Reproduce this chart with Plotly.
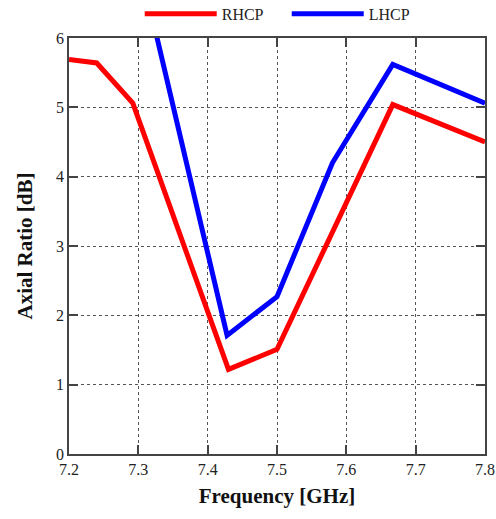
import plotly.graph_objects as go

freq_rhcp = [7.2, 7.24, 7.292, 7.43, 7.5, 7.667, 7.8]
ar_rhcp = [5.69, 5.64, 5.06, 1.22, 1.51, 5.04, 4.5]

freq_lhcp = [7.3, 7.428, 7.5, 7.58, 7.667, 7.8]
ar_lhcp = [7.15, 1.71, 2.27, 4.2, 5.62, 5.06]

x_ticks = [7.2, 7.3, 7.4, 7.5, 7.6, 7.7, 7.8]
y_ticks = [0, 1, 2, 3, 4, 5, 6]

font_family = "Liberation Serif"

fig = go.Figure()
fig.add_trace(go.Scatter(x=freq_rhcp, y=ar_rhcp, mode="lines", name="RHCP",
                         line=dict(color="#ff0000", width=5)))
fig.add_trace(go.Scatter(x=freq_lhcp, y=ar_lhcp, mode="lines", name="LHCP",
                         line=dict(color="#0000ff", width=5)))

axis_common = dict(
    showline=True, linecolor="#444444", linewidth=1.5, mirror="allticks",
    ticks="inside", ticklen=9, tickcolor="#444444", tickwidth=1.5,
    showgrid=True, gridcolor="#555555", griddash="dot", gridwidth=1.2,
    zeroline=False, automargin=False,
    tickfont=dict(family=font_family, size=16, color="#222222"),
)

fig.update_layout(
    width=496, height=519,
    margin=dict(l=69, r=11, t=38, b=65, autoexpand=False),
    plot_bgcolor="white", paper_bgcolor="white",
    font=dict(family=font_family, color="#111111"),
    showlegend=True,
    legend=dict(orientation="h", x=0.17, xanchor="left", y=1.058, yanchor="middle",
                font=dict(family=font_family, size=16, color="#222222"),
                itemwidth=72, entrywidth=60, entrywidthmode="pixels",
                bgcolor="rgba(0,0,0,0)"),
    xaxis=dict(range=[7.2, 7.8], tickvals=x_ticks, ticktext=[f"{v:.1f}" for v in x_ticks],
               title=dict(text="<b>Frequency [GHz]</b>", font=dict(family=font_family, size=21),
                          standoff=11),
               **axis_common),
    yaxis=dict(range=[0, 6], tickvals=y_ticks,
               title=dict(text="<b>Axial Ratio [dB]</b>", font=dict(family=font_family, size=21),
                          standoff=18),
               **axis_common),
)

fig.write_html("out.html", config={"displayModeBar": False},
               post_script="document.body.style.margin='0';document.body.style.overflow='hidden';")
